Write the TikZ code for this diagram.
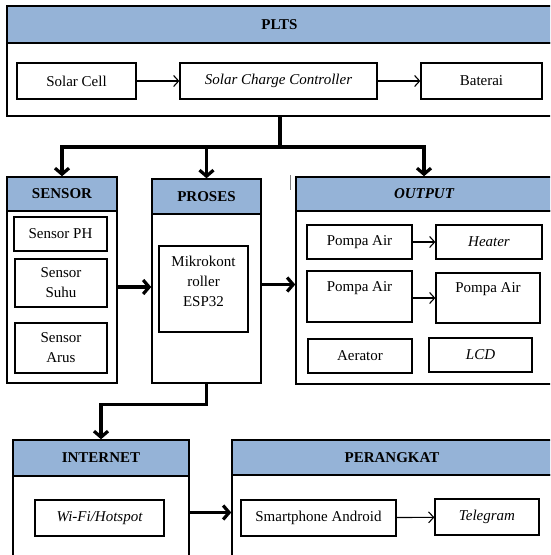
\documentclass[tikz,border=0pt]{standalone}
\usepackage{fontspec}
\setmainfont{Liberation Serif}
\usetikzlibrary{arrows.meta}
\definecolor{headblue}{RGB}{149,179,215}
\tikzstyle{head} = [draw=black, fill=headblue, line width=1.5pt,
rectangle, inner sep=0pt, font=\fontsize{15}{20}\selectfont\bfseries]
\tikzstyle{panel} = [draw=black, fill=white, line width=1.5pt,
rectangle, inner sep=0pt]
\tikzstyle{item} = [draw=black, fill=white, line width=1.3pt,
rectangle, inner sep=2pt, align=center]
\tikzstyle{link} = [line width=1.1pt, -{Straight Barb[length=5pt,width=11pt]}]
\tikzstyle{flow} = [line width=3.2pt, -{Straight Barb[length=6pt,width=14pt]}]

\begin{document}
\begin{tikzpicture}[x=1pt, y=-1pt, font=\fontsize{15}{20}\selectfont]
		\useasboundingbox (0,0) rectangle (550,555);
		\clip (0,0) rectangle (550,555);
		% PLTS
		\node [panel, minimum width=545pt, minimum height=73pt] (pltsbody) at (279.5,79.5) {};
		\node [head, minimum width=545pt, minimum height=37pt] (plts) at (279.5,24.5) {PLTS};
		\node [item, minimum width=119pt, minimum height=36pt] (cell) at (76.5,81) {Solar Cell};
		\node [item, minimum width=197pt, minimum height=36pt] (scc) at (278.5,81) {\itshape Solar Charge Controller};
		\node [item, minimum width=121pt, minimum height=36pt] (bat) at (481.5,81) {Baterai};
		\draw [link] (cell) -- (scc);
		\draw [link] (scc) -- (bat);
		
		% SENSOR, PROSES, OUTPUT
		\node [panel, minimum width=110pt, minimum height=172pt] (sensorbody) at (62,297) {};
		\node [head, minimum width=110pt, minimum height=34pt] (sensor) at (62,194) {SENSOR};
		\node [item, minimum width=93pt, minimum height=34pt] (ph) at (60.5,234) {Sensor PH};
		\node [item, minimum width=92pt, minimum height=48pt] (suhu) at (61,283) {Sensor\\Suhu};
		\node [item, minimum width=92pt, minimum height=50pt] (arus) at (61,348) {Sensor\\Arus};
		
		\node [panel, minimum width=109pt, minimum height=169pt] (prosesbody) at (206.5,298.5) {};
		\node [head, minimum width=109pt, minimum height=35pt] (proses) at (206.5,196.5) {PROSES};
		\node [item, minimum width=89pt, minimum height=86pt, text depth=15pt] (mcu) at (203.5,289) {Mikrokont\\roller\\ESP32};
		
		\node [panel, minimum width=256pt, minimum height=173pt] (outbody) at (424,297.5) {};
		\node [head, minimum width=256pt, minimum height=34pt] (output) at (424,194) {\itshape OUTPUT};
		\node [item, minimum width=105pt, minimum height=34pt] (pump1) at (359.5,242) {Pompa Air};
		\node [item, minimum width=106pt, minimum height=34pt] (heater) at (489,242) {\itshape Heater};
		\node [item, minimum width=105pt, minimum height=51pt, text depth=20pt] (pump2) at (359.5,296.5) {Pompa Air};
		\node [item, minimum width=104pt, minimum height=50pt, text depth=20pt] (pump3) at (488,298) {Pompa Air};
		\node [item, minimum width=104pt, minimum height=34pt] (aerator) at (360,356) {Aerator};
		\node [item, minimum width=103pt, minimum height=34pt] (lcd) at (480.5,355) {\itshape LCD};
		\draw [link] (pump1) -- (heater);
		\draw [link] (pump2.east |- pump3.west) -- (pump3.west);
		\draw [gray, line width=0.8pt] (290,175) -- (290,190);
		
		% INTERNET, PERANGKAT
		\node [panel, minimum width=176pt, minimum height=89pt] (inetbody) at (101,520.5) {};
		\node [head, minimum width=176pt, minimum height=36pt] (internet) at (101,458) {INTERNET};
		\node [item, minimum width=129pt, minimum height=36pt] (wifi) at (99.5,518) {\itshape Wi-Fi/Hotspot};
		
		\node [panel, minimum width=320pt, minimum height=85pt] (devbody) at (392,517.5) {};
		\node [head, minimum width=320pt, minimum height=35pt] (perangkat) at (392,457.5) {PERANGKAT};
		\node [item, minimum width=155pt, minimum height=36pt] (phone) at (318.5,518) {Smartphone Android};
		\node [item, minimum width=104pt, minimum height=36pt] (tele) at (487,517) {\itshape Telegram};
		\draw [link] (phone) -- (tele);
		
		% main flow
		\coordinate (split) at (280,147);
		\draw [line width=3.2pt] (pltsbody.south -| split) -- (split);
		\draw [flow] (split) -| (sensor.north);
		\draw [flow] (split) -| (proses.north);
		\draw [flow] (split) -| (output.north);
		\draw [flow] ([yshift=10pt]sensorbody.east) -- ([yshift=10pt]sensorbody.east -| prosesbody.west);
		\draw [flow] ([yshift=14pt]prosesbody.east) -- ([yshift=14pt]prosesbody.east -| outbody.west);
		\draw [flow] (prosesbody.south) -- ++(0,21) -| (internet.north);
		\draw [flow] ([yshift=8pt]inetbody.east) -- ([yshift=8pt]inetbody.east -| devbody.west);
\end{tikzpicture}
\end{document}
